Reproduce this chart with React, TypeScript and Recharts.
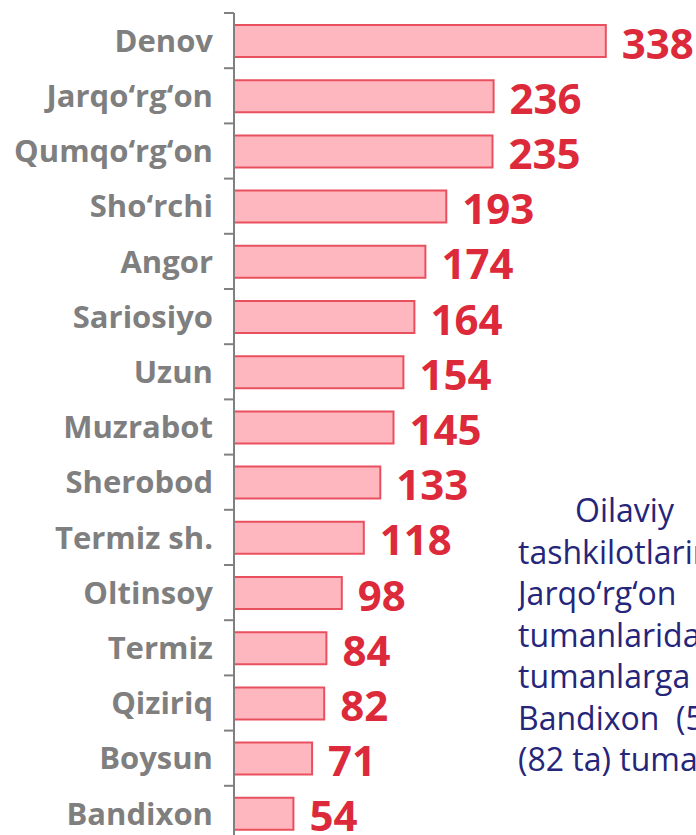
import { BarChart, Bar, XAxis, YAxis, LabelList } from 'recharts';

const districts = [
  'Denov', 'Jarqo‘rg‘on', 'Qumqo‘rg‘on', 'Sho‘rchi', 'Angor', 'Sariosiyo', 'Uzun',
  'Muzrabot', 'Sherobod', 'Termiz sh.', 'Oltinsoy', 'Termiz', 'Qiziriq', 'Boysun', 'Bandixon',
];
const counts = [338, 236, 235, 193, 174, 164, 154, 145, 133, 118, 98, 84, 82, 71, 54];

const noteLines = [
  'Oilaviy',
  'tashkilotlarining',
  'Jarqo‘rg‘on        va',
  'tumanlarida',
  'tumanlarga',
  'Bandixon  (54 ta)',
  '(82 ta) tumanlarda',
];

const data = districts.map((name, i) => ({ name, value: counts[i] }));

const W = 696;
const TOP = 13;
const PLOT_H = 828;
const band = PLOT_H / districts.length;
const FONT = '"Open Sans", "DejaVu Sans", sans-serif';

const CategoryTick = (props: any) => {
  const { x, y, payload } = props;
  const axisX = x + 21;
  return (
    <g>
      <line x1={axisX - 10} x2={axisX} y1={y - band / 2} y2={y - band / 2} stroke="#808080" strokeWidth={2} />
      <text
        x={x}
        y={y}
        dy="0.36em"
        textAnchor="end"
        fill="#7f7f7f"
        fontSize={31}
        fontWeight={700}
        fontFamily={FONT}
      >
        {payload.value}
      </text>
    </g>
  );
};

const ValueLabel = (props: any) => {
  const vb = props.viewBox && props.viewBox.width !== undefined ? props.viewBox : props;
  const { x, y, width, height } = vb;
  return (
    <text
      x={x + width + 16}
      y={y + height / 2}
      dy="0.42em"
      fill="#dc2a3a"
      fontSize={42}
      fontWeight={700}
      fontFamily={FONT}
    >
      {props.value}
    </text>
  );
};

export default function App() {
  return (
    <div
      style={{
        position: 'absolute',
        left: 0,
        top: 0,
        width: W,
        height: 835,
        overflow: 'hidden',
        background: '#fff',
      }}
    >
      <BarChart
        width={W}
        height={TOP + PLOT_H + 1}
        data={data}
        layout="vertical"
        margin={{ top: TOP, right: 22, bottom: 1, left: 0 }}
        barCategoryGap={0}
      >
        <XAxis type="number" domain={[0, 400]} hide />
        <YAxis
          type="category"
          dataKey="name"
          width={234}
          tickLine={false}
          tickSize={10}
          tickMargin={11}
          axisLine={{ stroke: '#808080', strokeWidth: 2 }}
          tick={<CategoryTick />}
          interval={0}
        />
        <Bar
          dataKey="value"
          barSize={32}
          fill="#ffb7bf"
          stroke="#e9505f"
          strokeWidth={2}
          isAnimationActive={false}
        >
          <LabelList dataKey="value" content={<ValueLabel />} />
        </Bar>
      </BarChart>
      <div
        style={{
          position: 'absolute',
          left: 518,
          top: 489,
          width: W - 518,
          overflow: 'hidden',
          fontFamily: FONT,
          fontSize: 32,
          lineHeight: '41.5px',
          color: '#25257a',
          whiteSpace: 'pre',
        }}
      >
        {noteLines.map((line, i) => (
          <div key={i} style={{ paddingLeft: i === 0 ? 57 : 0 }}>
            {line}
          </div>
        ))}
      </div>
    </div>
  );
}
